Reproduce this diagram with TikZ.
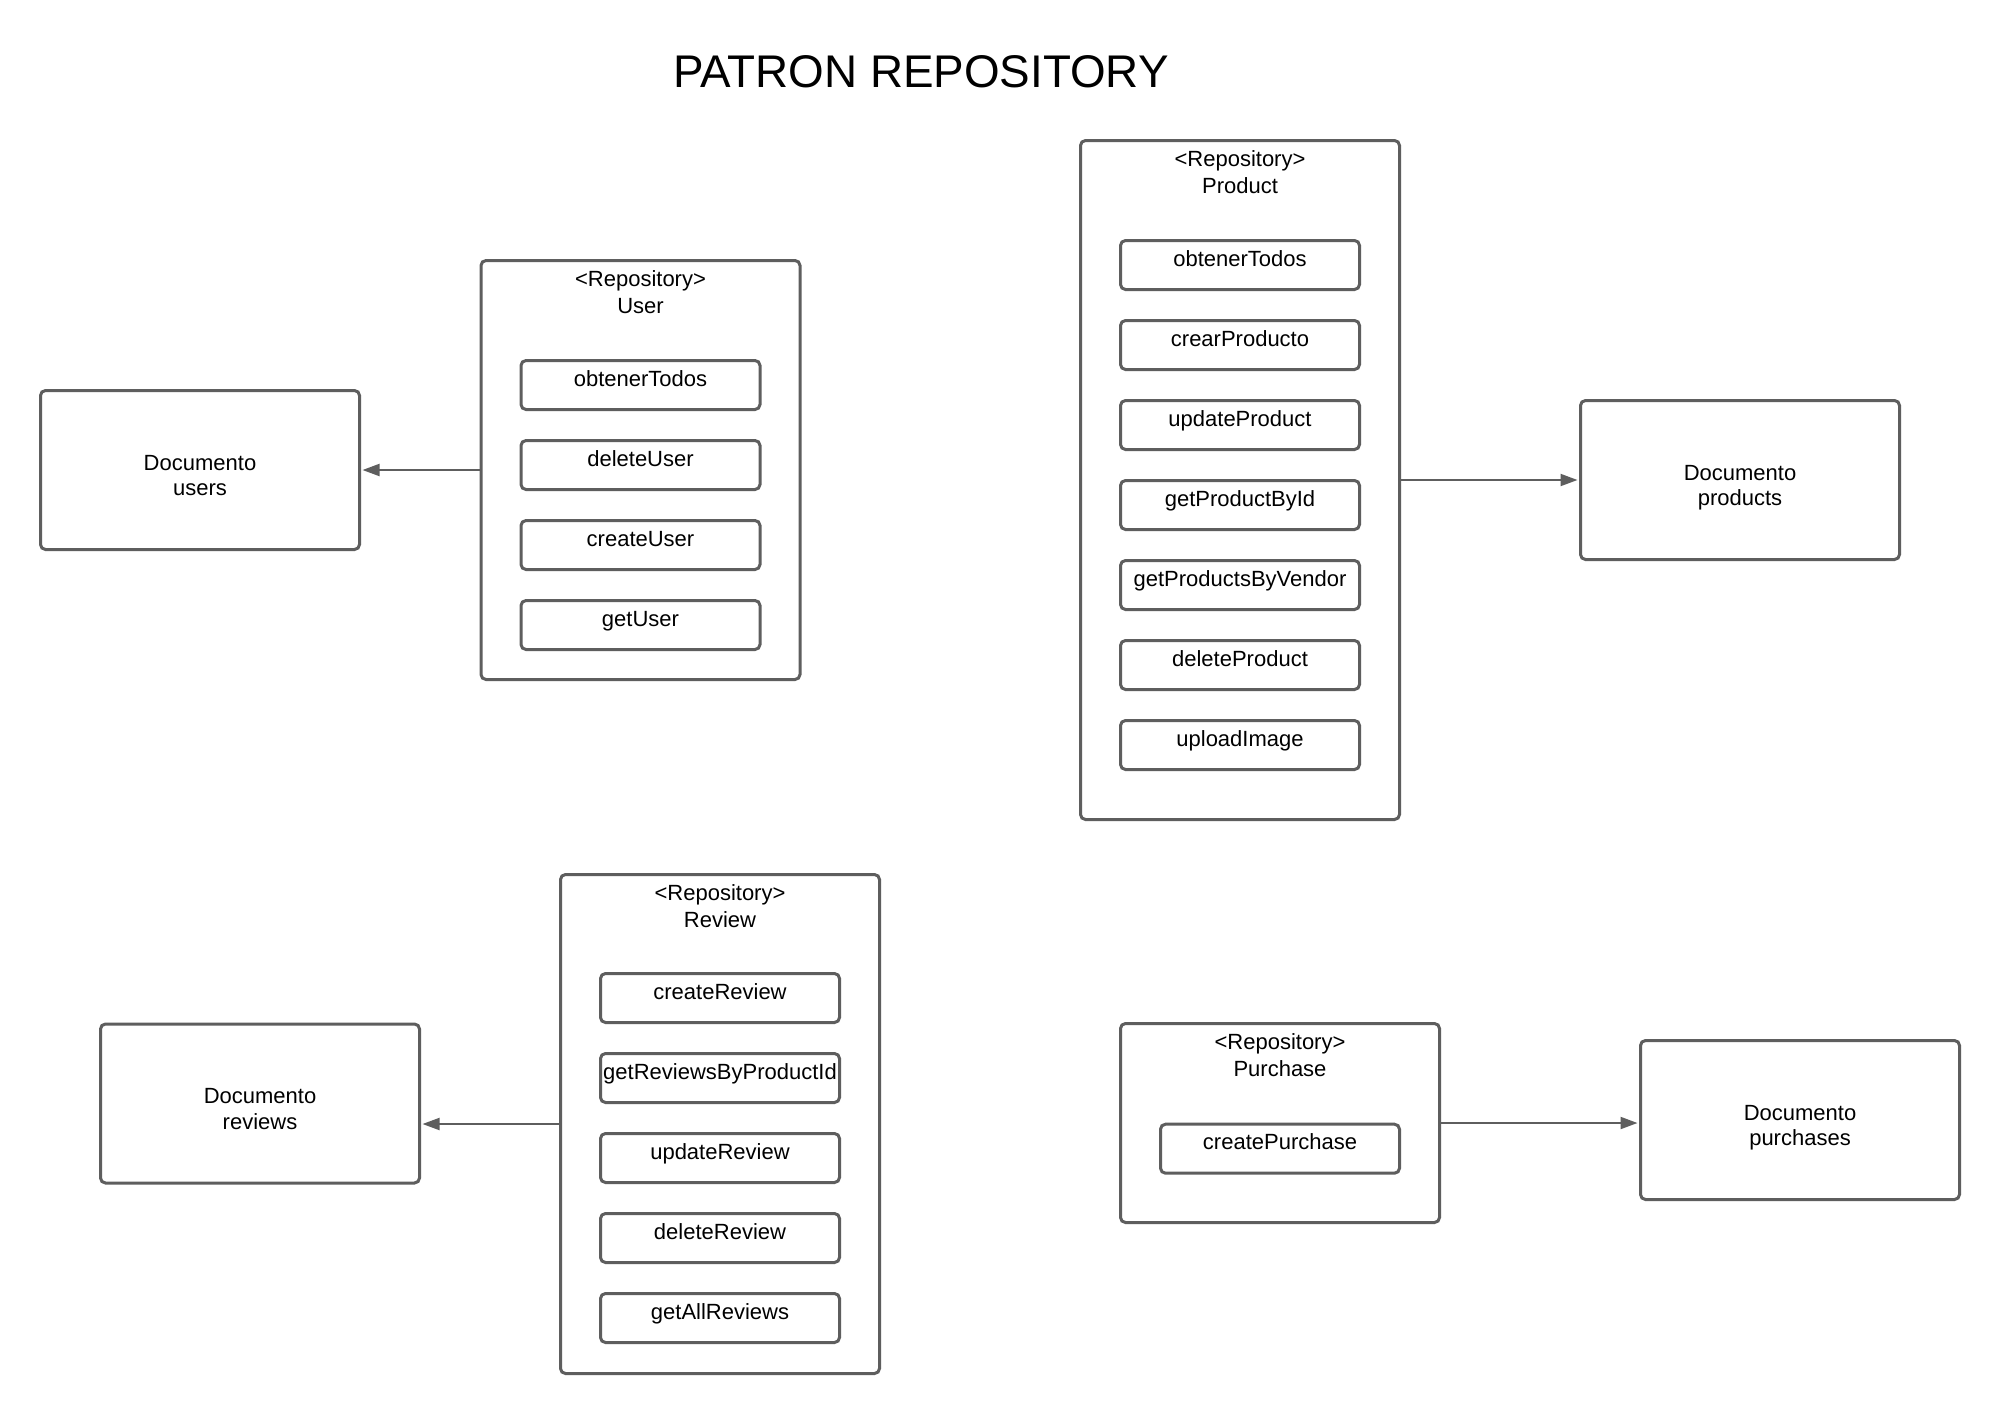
\documentclass[tikz,border=0pt]{standalone}
\usepackage{fontspec}
\setmainfont{Liberation Sans}
\usetikzlibrary{arrows.meta}
\definecolor{edgegray}{HTML}{5E5E5E}

\begin{document}
\begin{tikzpicture}[x=1pt,y=-1pt,
  box/.style={draw=edgegray, line width=3pt, rounded corners=5pt, inner sep=0pt},
  repo/.style={box, minimum width=319pt},
  method/.style={box, minimum width=239pt, minimum height=49pt,
    font=\fontsize{22}{26}\selectfont, text height=15pt, text depth=13pt},
  doc/.style={box, minimum width=319pt, minimum height=159pt, align=center,
    font=\fontsize{22}{25.5}\selectfont, text height=51pt, text depth=0pt},
  hdr/.style={anchor=base, align=center, inner sep=0pt,
    font=\fontsize{22}{27}\selectfont},
  link/.style={draw=edgegray, line width=2pt,
    -{Triangle[length=17pt,width=12pt]}, shorten >=1.5pt}
]
\path[use as bounding box, fill=white] (0,0) rectangle (2000,1414);

\node[font=\fontsize{45.8}{50}\selectfont, anchor=base, inner sep=0pt] (title) at (921,87) {PATRON REPOSITORY};

% ---- User
\node[repo, minimum height=419pt] (urepo) at (640.5,470) {};
\node[hdr] (uhdr) at ([yshift=-54pt]urepo.north) {<Repository>\\User};
\node[method] (u1) at (640.5,385) {obtenerTodos};
\node[method] (u2) at (640.5,465) {deleteUser};
\node[method] (u3) at (640.5,545) {createUser};
\node[method] (u4) at (640.5,625) {getUser};
\node[doc] (udoc) at (200,470) {Documento\\users};

% ---- Product
\node[repo, minimum height=679pt] (prepo) at (1240,480) {};
\node[hdr] (phdr) at ([yshift=-54pt]prepo.north) {<Repository>\\Product};
\node[method] (p1) at (1240,265) {obtenerTodos};
\node[method] (p2) at (1240,345) {crearProducto};
\node[method] (p3) at (1240,425) {updateProduct};
\node[method] (p4) at (1240,505) {getProductById};
\node[method] (p5) at (1240,585) {getProductsByVendor};
\node[method] (p6) at (1240,665) {deleteProduct};
\node[method] (p7) at (1240,745) {uploadImage};
\node[doc] (pdoc) at (1740,480) {Documento\\products};

% ---- Review
\node[repo, minimum height=499pt] (rrepo) at (720,1124) {};
\node[hdr] (rhdr) at ([yshift=-54pt]rrepo.north) {<Repository>\\Review};
\node[method] (r1) at (720,998) {createReview};
\node[method] (r2) at (720,1078) {getReviewsByProductId};
\node[method] (r3) at (720,1158) {updateReview};
\node[method] (r4) at (720,1238) {deleteReview};
\node[method] (r5) at (720,1318) {getAllReviews};
\node[doc] (rvdoc) at (260,1103.5) {Documento\\reviews};

% ---- Purchase
\node[repo, minimum height=199pt] (purrepo) at (1280,1123) {};
\node[hdr] (purhdr) at ([yshift=-54pt]purrepo.north) {<Repository>\\Purchase};
\node[method] (pu1) at (1280,1148.7) {createPurchase};
\node[doc] (pudoc) at (1800,1120) {Documento\\purchases};

% ---- connectors
\draw[link] (urepo.west) -- (udoc.east);
\draw[link] (prepo.east) -- (pdoc.west);
\draw[link] (rrepo.west) -- (rrepo.west -| rvdoc.east);
\draw[link] (purrepo.east) -- (purrepo.east -| pudoc.west);
\end{tikzpicture}
\end{document}
